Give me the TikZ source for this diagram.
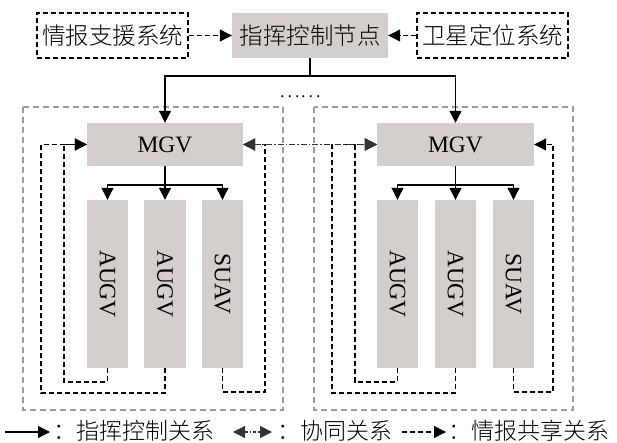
\documentclass[tikz,border=0pt]{standalone}
\usepackage{fontspec}
\setmainfont{Liberation Serif}
\newfontfamily\cjk{Noto Sans CJK SC Light}
\usetikzlibrary{arrows.meta}
\definecolor{boxgray}{HTML}{D4CFCD}
\definecolor{framegray}{HTML}{9C9C9C}
\definecolor{collabgray}{HTML}{333333}
\begin{document}
\begin{tikzpicture}[x=1pt,y=-1pt,
  tip/.style={-{Triangle[length=12pt,width=12pt]}},
  biTip/.style={{Triangle[length=12pt,width=12pt]}-{Triangle[length=12pt,width=12pt]}},
  ctl/.style={draw=black,line width=1.1pt,tip},
  ctlplain/.style={draw=black,line width=1.1pt},
  infoline/.style={draw=black,line width=1.1pt,dash pattern=on 5pt off 3pt,tip},
  collab/.style={draw=collabgray,line width=1.1pt,dash pattern=on 6pt off 2pt on 1.5pt off 2pt,biTip},
  frame/.style={draw=framegray,line width=1.1pt,dash pattern=on 6pt off 4pt},
  gbox/.style={fill=boxgray,draw=none,inner sep=0pt},
  dbox/.style={draw=black,line width=1.1pt,dash pattern=on 5pt off 3pt,inner sep=0pt},
  topfont/.style={font=\cjk\fontsize{23.5}{26}\selectfont},
  latfont/.style={font=\fontsize{23.5}{26}\selectfont},
  legfont/.style={font=\cjk\fontsize{23}{26}\selectfont}
]
\useasboundingbox (0,0) rectangle (617,443);

% group frames
\draw[frame] (23,107) rectangle (283,410);
\draw[frame] (314,107) rectangle (573,410);

% top row
\node[dbox,topfont,minimum width=151pt,minimum height=45pt] (info) at (112.5,35.5) {情报支援系统};
\node[gbox,topfont,minimum width=156pt,minimum height=45pt] (ctrl) at (310,35.5) {指挥控制节点};
\node[dbox,topfont,minimum width=151pt,minimum height=45pt] (sat) at (492.5,35.5) {卫星定位系统};

\draw[infoline] (info.east) -- (ctrl.west);
\draw[infoline] (sat.west) -- (ctrl.east);

% MGV nodes
\node[gbox,latfont,minimum width=156pt,minimum height=43pt] (mgvL) at (165,144.5) {MGV};
\node[gbox,latfont,minimum width=157pt,minimum height=43pt] (mgvR) at (455.5,144.5) {MGV};

\node[topfont] (dots) at (300,97) {\fontsize{20}{20}\selectfont ……};

\coordinate (split) at (310,76);
\draw[ctlplain] (ctrl.south) -- (split);
\draw[ctl] (split) -| (mgvL.north);
\draw[ctl] (split) -| (mgvR.north);

% children left
\node[gbox,latfont,minimum width=41pt,minimum height=168pt] (a1L) at (107.5,284) {\rotatebox{-90}{AUGV}};
\node[gbox,latfont,minimum width=42pt,minimum height=168pt] (a2L) at (165,284) {\rotatebox{-90}{AUGV}};
\node[gbox,latfont,minimum width=41pt,minimum height=168pt] (sL) at (222.5,284) {\rotatebox{-90}{SUAV}};
% children right
\node[gbox,latfont,minimum width=41pt,minimum height=168pt] (a1R) at (397.5,284) {\rotatebox{-90}{AUGV}};
\node[gbox,latfont,minimum width=41pt,minimum height=168pt] (a2R) at (455.5,284) {\rotatebox{-90}{AUGV}};
\node[gbox,latfont,minimum width=41pt,minimum height=168pt] (sR) at (513.5,284) {\rotatebox{-90}{SUAV}};

% branches
\coordinate (bL) at (165,185);
\coordinate (bR) at (455.5,185);
\draw[ctlplain] (mgvL.south) -- (bL);
\draw[ctl] (bL) -| (a1L.north);
\draw[ctl] (bL) -- (a2L.north);
\draw[ctl] (bL) -| (sL.north);
\draw[ctlplain] (mgvR.south) -- (bR);
\draw[ctl] (bR) -| (a1R.north);
\draw[ctl] (bR) -- (a2R.north);
\draw[ctl] (bR) -| (sR.north);

% feedback loops left
\coordinate (lpA) at (64,382);
\coordinate (lpB) at (41,393);
\coordinate (lpC) at (265,392);
\draw[infoline] (a1L.south) |- (lpA) |- (mgvL.west);
\draw[infoline] (a2L.south) |- (lpB) |- (mgvL.west);
\draw[infoline] (sL.south) |- (lpC) |- (mgvL.east);
% feedback loops right
\coordinate (rpA) at (355,382);
\coordinate (rpB) at (332,393);
\coordinate (rpC) at (553,392);
\draw[infoline] (a1R.south) |- (rpA) |- (mgvR.west);
\draw[infoline] (a2R.south) |- (rpB) |- (mgvR.west);
\draw[infoline] (sR.south) |- (rpC) |- (mgvR.east);

% collaboration
\draw[collab] (mgvL.east) -- (mgvR.west);

% legend
\coordinate (l1a) at (5,432);
\coordinate (l1b) at (50,432);
\draw[ctl] (l1a) -- (l1b);
\node[legfont,anchor=west,inner sep=0pt] (l1t) at (53,431) {：指挥控制关系};
\coordinate (l2a) at (233,432);
\coordinate (l2b) at (272,432);
\draw[draw=collabgray,line width=1.1pt,dash pattern=on 3pt off 2pt on 1.5pt off 2pt,biTip] (l2a) -- (l2b);
\node[legfont,anchor=west,inner sep=0pt] (l2t) at (277,431) {：协同关系};
\coordinate (l3a) at (402,432);
\coordinate (l3b) at (446,432);
\draw[infoline] (l3a) -- (l3b);
\node[legfont,anchor=west,inner sep=0pt] (l3t) at (448,431) {：情报共享关系};
\end{tikzpicture}
\end{document}
